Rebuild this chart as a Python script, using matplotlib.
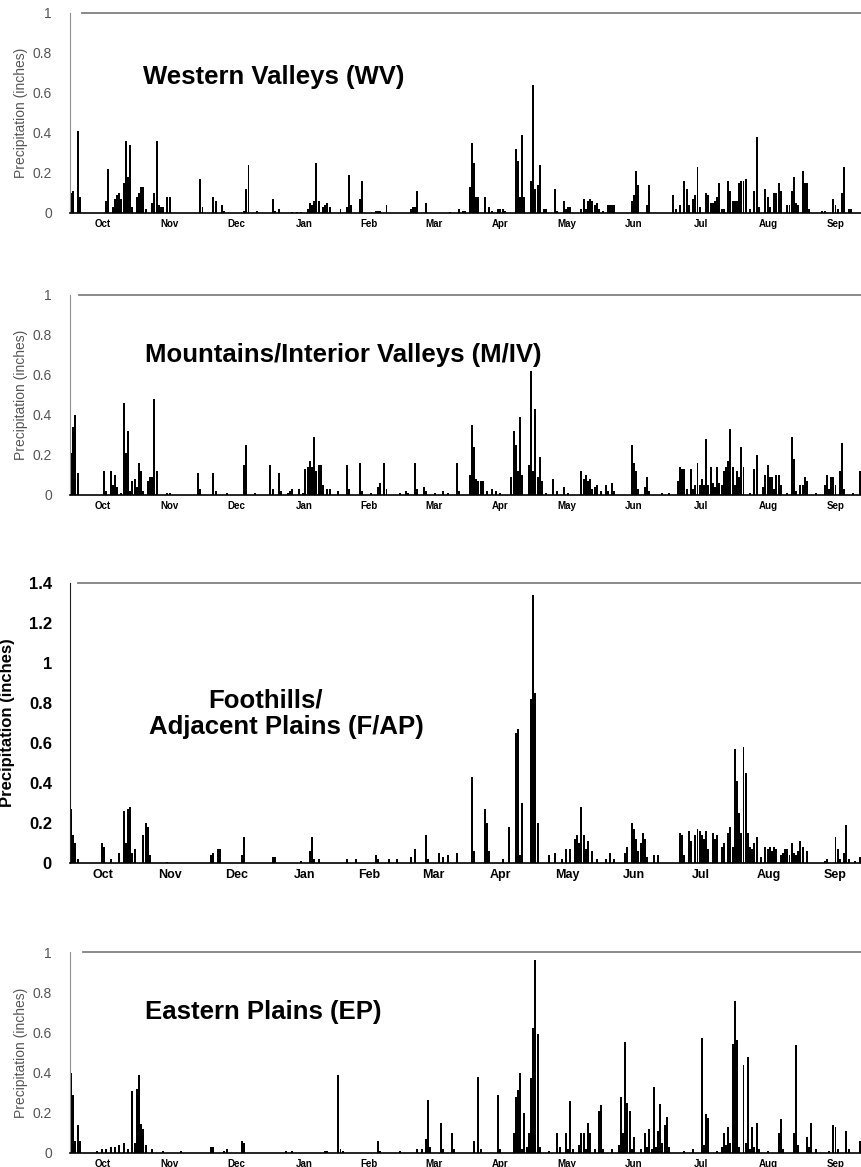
import numpy as np
import matplotlib
matplotlib.use("Agg")
import matplotlib.pyplot as plt

plt.rcParams['font.family'] = ['Liberation Sans', 'DejaVu Sans']

# water year, day 0 = Oct 1
months = ['Oct', 'Nov', 'Dec', 'Jan', 'Feb', 'Mar', 'Apr', 'May', 'Jun', 'Jul', 'Aug', 'Sep']
month_days = [31, 30, 31, 31, 28, 31, 30, 31, 30, 31, 31, 30]

# Western Valleys (WV): day index -> precipitation (inches)
wv_days = [0, 1, 3, 4, 16, 17, 19, 20, 21, 22, 23, 24, 25, 26, 27, 28, 30, 31, 32, 33, 34,
           37, 38, 39, 40, 41, 42, 44, 45, 59, 60, 65, 66, 69, 70, 79, 80, 81, 85, 92, 93, 95,
           101, 103, 105, 108, 109, 110, 111, 112, 113, 115, 116, 117, 118, 123, 126, 127, 128,
           132, 133, 139, 140, 141, 144, 155, 156, 157, 158, 162, 173, 177, 179, 180,
           182, 183, 184, 185, 186, 189, 191, 192, 195, 196, 197, 198,
           203, 204, 205, 206, 207, 210, 211, 212, 213, 214, 216, 217, 221, 222, 225, 226, 227, 228,
           233, 234, 235, 236, 237, 238, 239, 240, 241, 243, 245, 246, 247, 248,
           256, 257, 258, 259, 263, 264, 275, 276, 278, 280, 281, 282, 284, 285, 286, 287,
           290, 291, 292, 293, 294, 295, 296, 297, 298, 300, 301, 302, 303, 304, 305, 306, 307, 308,
           310, 312, 313, 314, 317, 318, 319, 321, 322, 323, 324, 327, 328, 329, 330, 331, 332,
           334, 335, 336, 337, 343, 344, 348, 349, 350, 352, 353, 355, 356]
wv_vals = [0.10, 0.11, 0.41, 0.08, 0.06, 0.22, 0.03, 0.07, 0.09, 0.10, 0.07, 0.15, 0.36, 0.18, 0.34, 0.03, 0.08, 0.10, 0.13, 0.13, 0.02,
           0.05, 0.10, 0.36, 0.04, 0.03, 0.03, 0.08, 0.08, 0.17, 0.03, 0.08, 0.06, 0.04, 0.01, 0.01, 0.12, 0.24, 0.01, 0.07, 0.01, 0.02,
           0.005, 0.005, 0.005, 0.02, 0.05, 0.04, 0.06, 0.25, 0.06, 0.03, 0.04, 0.05, 0.03, 0.02, 0.03, 0.19, 0.04,
           0.07, 0.16, 0.01, 0.01, 0.01, 0.04, 0.02, 0.03, 0.03, 0.11, 0.05, 0.005, 0.02, 0.01, 0.01,
           0.13, 0.35, 0.25, 0.08, 0.08, 0.08, 0.03, 0.01, 0.02, 0.02, 0.02, 0.01,
           0.32, 0.26, 0.08, 0.39, 0.08, 0.16, 0.64, 0.12, 0.14, 0.24, 0.02, 0.02, 0.12, 0.01, 0.06, 0.02, 0.03, 0.03,
           0.02, 0.07, 0.02, 0.06, 0.07, 0.06, 0.04, 0.05, 0.02, 0.01, 0.04, 0.04, 0.04, 0.04,
           0.06, 0.09, 0.21, 0.14, 0.04, 0.14, 0.09, 0.02, 0.04, 0.16, 0.12, 0.04, 0.07, 0.09, 0.23, 0.03,
           0.10, 0.09, 0.05, 0.05, 0.06, 0.08, 0.15, 0.02, 0.02, 0.16, 0.11, 0.06, 0.06, 0.06, 0.15, 0.16, 0.16, 0.17,
           0.02, 0.11, 0.38, 0.03, 0.12, 0.08, 0.03, 0.10, 0.10, 0.15, 0.11, 0.04, 0.04, 0.11, 0.18, 0.05, 0.04,
           0.21, 0.15, 0.15, 0.02, 0.01, 0.01, 0.07, 0.04, 0.02, 0.10, 0.23, 0.02, 0.02]

# Mountains/Interior Valleys (M/IV)
miv_days = [0, 1, 2, 3, 15, 16, 18, 19, 20, 21, 23, 24, 25, 26, 27, 28, 29, 30, 31, 32, 33, 35, 36, 37, 38, 39,
            44, 45, 58, 59, 65, 66, 71, 79, 80, 84, 91, 92, 95, 96, 99, 100, 101, 104, 106,
            107, 108, 109, 110, 111, 112, 113, 114, 115, 117, 118, 122, 126, 127, 132, 133, 137,
            140, 141, 143, 144, 150, 153, 154, 157, 158, 161, 162, 166, 170, 172, 176, 177,
            182, 183, 184, 185, 186, 187, 188, 190, 192, 194, 196, 201, 202, 203, 204, 205, 206,
            209, 210, 211, 212, 213, 214, 215, 217, 220, 222, 225, 227,
            233, 234, 235, 236, 237, 238, 239, 240, 242, 244, 245, 247, 248, 256, 257, 258, 259,
            262, 263, 264, 270, 273, 277, 278, 279, 280, 281, 283, 284, 285, 286, 287, 288, 289,
            290, 291, 292, 293, 294, 295, 296, 297, 298, 299, 300, 301, 302, 303, 304, 305, 306, 307,
            310, 312, 313, 316, 317, 318, 319, 320, 321, 322, 323, 324, 327, 329, 330, 331,
            333, 334, 335, 336, 340, 344, 345, 346, 347, 348, 349, 351, 352, 353, 357, 360]
miv_vals = [0.21, 0.34, 0.40, 0.11, 0.12, 0.02, 0.12, 0.05, 0.10, 0.04, 0.01, 0.46, 0.21, 0.32, 0.02, 0.07, 0.08, 0.04, 0.16, 0.12, 0.02, 0.07, 0.09, 0.09, 0.48, 0.12,
            0.01, 0.01, 0.11, 0.03, 0.11, 0.02, 0.01, 0.15, 0.25, 0.01, 0.15, 0.03, 0.11, 0.02, 0.01, 0.02, 0.03, 0.03, 0.01,
            0.13, 0.14, 0.17, 0.14, 0.29, 0.12, 0.15, 0.15, 0.05, 0.03, 0.03, 0.02, 0.15, 0.03, 0.16, 0.02, 0.01,
            0.04, 0.06, 0.16, 0.03, 0.01, 0.02, 0.01, 0.16, 0.03, 0.04, 0.02, 0.01, 0.02, 0.01, 0.16, 0.02,
            0.10, 0.35, 0.24, 0.08, 0.07, 0.07, 0.07, 0.02, 0.03, 0.02, 0.01, 0.09, 0.32, 0.25, 0.12, 0.39, 0.10,
            0.15, 0.62, 0.12, 0.43, 0.09, 0.19, 0.07, 0.01, 0.08, 0.02, 0.04, 0.01,
            0.12, 0.08, 0.10, 0.07, 0.08, 0.03, 0.04, 0.05, 0.02, 0.05, 0.02, 0.06, 0.02, 0.25, 0.16, 0.12, 0.03,
            0.04, 0.09, 0.02, 0.01, 0.01, 0.07, 0.14, 0.13, 0.13, 0.03, 0.13, 0.03, 0.05, 0.16, 0.05, 0.08, 0.05,
            0.28, 0.05, 0.14, 0.06, 0.04, 0.14, 0.06, 0.05, 0.12, 0.14, 0.17, 0.33, 0.14, 0.05, 0.12, 0.09, 0.24, 0.14,
            0.01, 0.13, 0.20, 0.04, 0.10, 0.15, 0.09, 0.09, 0.03, 0.10, 0.10, 0.05, 0.01, 0.29, 0.18, 0.02,
            0.05, 0.05, 0.09, 0.07, 0.01, 0.05, 0.10, 0.03, 0.09, 0.09, 0.05, 0.12, 0.26, 0.03, 0.01, 0.12]

# Foothills/Adjacent Plains (F/AP)
fap_days = [0, 1, 2, 3, 14, 15, 18, 22, 24, 25, 26, 27, 28, 29, 33, 34, 35, 36, 44, 64, 65, 67, 68, 78, 79,
            92, 93, 105, 109, 110, 111, 113, 126, 130, 139, 140, 145, 149, 155, 157, 162, 163, 168, 170, 172, 176,
            183, 184, 189, 190, 191, 197, 200, 203, 204, 205, 206, 210, 211, 212, 213, 218, 221, 224, 226, 228,
            230, 231, 232, 233, 234, 235, 236, 238, 240, 244, 246, 248, 253, 254, 256, 257, 258, 259, 260, 261, 262, 263,
            266, 268, 278, 279, 280, 282, 283, 285, 286, 287, 288, 289, 290, 291, 293, 294, 295, 297, 298,
            300, 301, 302, 303, 304, 305, 306, 307, 308, 309, 310, 311, 312, 313, 315, 317, 318, 319, 320, 321, 322,
            324, 325, 326, 327, 328, 329, 330, 331, 332, 333, 334, 336, 344, 345, 349, 350, 351, 353, 354, 355, 358, 360]
fap_vals = [0.27, 0.14, 0.10, 0.02, 0.10, 0.08, 0.02, 0.05, 0.26, 0.10, 0.27, 0.28, 0.05, 0.07, 0.14, 0.20, 0.18, 0.04, 0.005, 0.04, 0.05, 0.07, 0.07, 0.04, 0.13,
            0.03, 0.03, 0.01, 0.06, 0.13, 0.02, 0.02, 0.02, 0.02, 0.04, 0.02, 0.02, 0.02, 0.03, 0.07, 0.14, 0.02, 0.05, 0.03, 0.04, 0.05,
            0.43, 0.06, 0.27, 0.20, 0.06, 0.02, 0.18, 0.65, 0.67, 0.04, 0.30, 0.82, 1.34, 0.85, 0.20, 0.04, 0.05, 0.02, 0.07, 0.07,
            0.12, 0.14, 0.10, 0.28, 0.14, 0.07, 0.11, 0.06, 0.02, 0.02, 0.05, 0.02, 0.05, 0.08, 0.20, 0.17, 0.12, 0.06, 0.10, 0.15, 0.12, 0.03,
            0.04, 0.04, 0.15, 0.14, 0.04, 0.16, 0.11, 0.14, 0.17, 0.16, 0.14, 0.12, 0.16, 0.07, 0.15, 0.12, 0.14, 0.08, 0.10,
            0.15, 0.18, 0.08, 0.57, 0.41, 0.25, 0.15, 0.58, 0.45, 0.15, 0.08, 0.07, 0.10, 0.13, 0.03, 0.08, 0.07, 0.08, 0.06, 0.08, 0.07,
            0.04, 0.05, 0.07, 0.07, 0.04, 0.10, 0.05, 0.04, 0.06, 0.11, 0.08, 0.06, 0.01, 0.02, 0.13, 0.07, 0.02, 0.05, 0.19, 0.02, 0.01, 0.03]

# Eastern Plains (EP)
ep_days = [0, 1, 2, 3, 4, 12, 14, 16, 18, 20, 22, 24, 26, 28, 29, 30, 31, 32, 33, 34, 37, 42, 50, 64, 65, 70, 71, 78, 79,
           98, 101, 116, 117, 122, 123, 124, 140, 141, 150, 158, 160, 162, 163, 164, 169, 170, 174, 175,
           184, 186, 187, 195, 196, 202, 203, 204, 205, 206, 207, 208, 209, 210, 211, 212, 213, 214, 218,
           222, 223, 226, 227, 228, 229, 232, 233, 234, 235, 236, 237, 239, 241, 242, 243, 247, 250,
           251, 252, 253, 254, 255, 256, 257, 260, 262, 263, 264, 265, 266, 267, 268, 269, 270, 271, 272, 273,
           280, 284, 288, 289, 290, 291, 295, 297, 298, 299, 300, 301, 302, 303, 304, 305, 307, 308, 309, 310,
           311, 312, 313, 314, 318, 323, 324, 325, 330, 331, 332, 336, 337, 338, 340, 346, 348, 349, 350,
           354, 355, 360, 361]
ep_vals = [0.40, 0.29, 0.06, 0.14, 0.06, 0.01, 0.02, 0.02, 0.03, 0.03, 0.04, 0.05, 0.02, 0.31, 0.05, 0.32, 0.39, 0.145, 0.12, 0.04, 0.02, 0.01, 0.01, 0.03, 0.03, 0.01, 0.02, 0.06, 0.05,
           0.01, 0.01, 0.01, 0.01, 0.39, 0.02, 0.01, 0.06, 0.01, 0.01, 0.02, 0.02, 0.07, 0.265, 0.03, 0.15, 0.02, 0.10, 0.02,
           0.06, 0.38, 0.02, 0.29, 0.02, 0.10, 0.28, 0.315, 0.40, 0.02, 0.20, 0.03, 0.10, 0.373, 0.623, 0.96, 0.59, 0.03, 0.01,
           0.10, 0.03, 0.10, 0.02, 0.257, 0.02, 0.04, 0.10, 0.10, 0.02, 0.15, 0.10, 0.02, 0.207, 0.237, 0.02, 0.02, 0.04,
           0.28, 0.10, 0.553, 0.25, 0.21, 0.02, 0.08, 0.02, 0.10, 0.03, 0.12, 0.02, 0.327, 0.03, 0.11, 0.245, 0.05, 0.14, 0.18, 0.03,
           0.01, 0.02, 0.573, 0.04, 0.193, 0.173, 0.01, 0.03, 0.10, 0.04, 0.13, 0.05, 0.543, 0.757, 0.56, 0.03, 0.437, 0.05, 0.48, 0.02,
           0.13, 0.03, 0.15, 0.02, 0.01, 0.10, 0.17, 0.02, 0.10, 0.535, 0.04, 0.08, 0.03, 0.15, 0.02, 0.01, 0.14, 0.13, 0.02,
           0.11, 0.02, 0.06, 0.315]

W, H = 862, 1167
fig = plt.figure(figsize=(W / 100, H / 100), dpi=100)

month_start = np.concatenate([[0], np.cumsum(month_days)[:-1]])
month_mid = month_start + np.array(month_days) / 2 - 1


def panel(top, bottom, days, vals, ymax, title_lines, bold_axis, line_start):
    ax = fig.add_axes([70 / W, 1 - bottom / H, (W - 70) / W, (bottom - top) / H])
    series = np.zeros(365)
    series[days] = vals
    ax.bar(np.arange(365), series, width=0.9, color='black', linewidth=0)
    ax.set_xlim(-0.5, 361.1)
    ax.set_ylim(0, ymax)
    ticks = np.round(np.arange(0, ymax + 0.01, 0.2), 1)
    ax.set_yticks(ticks)
    ax.set_yticklabels(['%g' % t for t in ticks])
    ax.set_xticks(month_mid)
    ax.set_xticklabels(months)
    for s in ['top', 'right']:
        ax.spines[s].set_visible(False)
    ax.spines['bottom'].set_color('black')
    ax.spines['bottom'].set_linewidth(1.2)
    ax.axhline(ymax, xmin=line_start, xmax=1, color='#808080', linewidth=1.3, clip_on=False)
    if bold_axis:
        ax.spines['left'].set_color('#222222')
        ax.tick_params(axis='y', length=0, pad=13, labelsize=12, labelcolor='black')
        for lb in ax.get_yticklabels():
            lb.set_fontweight('bold')
        ax.set_ylabel('Precipitation (inches)', fontsize=12, fontweight='bold')
        ax.yaxis.set_label_coords(-0.07, 0.5)
        ax.tick_params(axis='x', length=0, pad=4, labelsize=9)
    else:
        ax.spines['left'].set_color('#909090')
        ax.tick_params(axis='y', length=0, pad=13, labelsize=10, labelcolor='#555555')
        ax.set_ylabel('Precipitation (inches)', fontsize=10, color='#555555')
        ax.yaxis.set_label_coords(-0.053, 0.5)
        ax.tick_params(axis='x', length=0, pad=4, labelsize=7)
    for lb in ax.get_xticklabels():
        lb.set_fontweight('bold')
    for (x, y, txt, ha) in title_lines:
        ax.text(x, y, txt, transform=ax.transAxes, ha=ha, va='center',
                fontsize=18.5, fontweight='bold')
    return ax


panel(13, 213, wv_days, wv_vals, 1.0,
      [(0.092, 0.68, 'Western Valleys (WV)', 'left')], False, 0.015)
panel(295, 495, miv_days, miv_vals, 1.0,
      [(0.095, 0.70, 'Mountains/Interior Valleys (M/IV)', 'left')], False, 0.011)
panel(583, 863, fap_days, fap_vals, 1.4,
      [(0.247, 0.582, 'Foothills/', 'center'),
       (0.273, 0.486, 'Adjacent Plains (F/AP)', 'center')], True, 0.01)
panel(952, 1153, ep_days, ep_vals, 1.0,
      [(0.095, 0.70, 'Eastern Plains (EP)', 'left')], False, 0.016)

fig.savefig('out.png', dpi=100)
